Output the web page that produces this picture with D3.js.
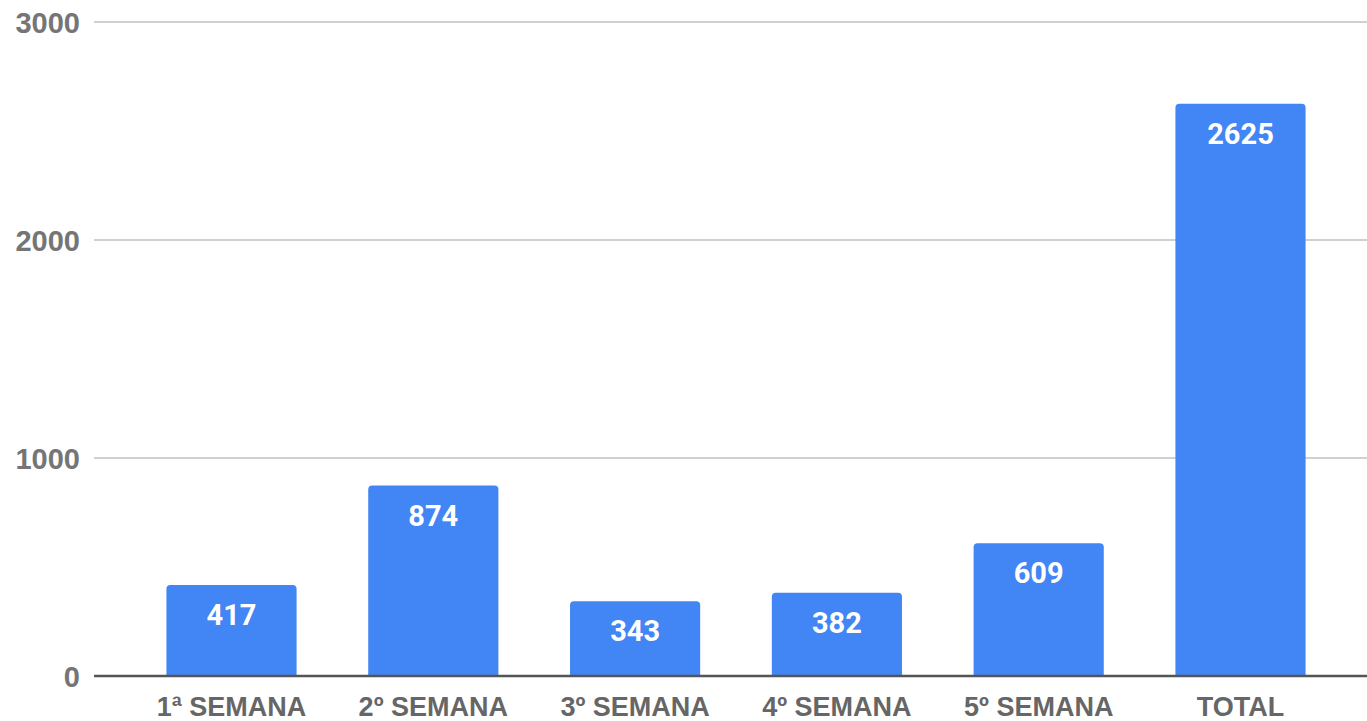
<!DOCTYPE html>
<html>
<head>
<meta charset="utf-8">
<script src="https://cdn.jsdelivr.net/npm/d3@7"></script>
<style>
  html, body { margin: 0; padding: 0; background: #fff; }
  svg { display: block; font-family: Roboto, "Noto Sans", sans-serif; }
</style>
</head>
<body>
<svg id="chart" width="1367" height="721"></svg>
<script>
// Weekly counts plus the overall total
const categories = ["1ª SEMANA", "2º SEMANA", "3º SEMANA", "4º SEMANA", "5º SEMANA", "TOTAL"];
const values = [417, 874, 343, 382, 609, 2625];
const yTicks = [0, 1000, 2000, 3000];

const svg = d3.select("#chart");
const plot = { left: 94, right: 1367, top: 22, bottom: 676 };

const x = d3.scaleBand()
  .domain(categories)
  .range([130.6, 1341.4])
  .paddingInner(0.355)
  .paddingOuter(0.1775);

const y = d3.scaleLinear()
  .domain([0, 3000])
  .range([plot.bottom, plot.top]);

// Horizontal gridlines
svg.append("g")
  .selectAll("line")
  .data(yTicks.filter(d => d > 0))
  .join("line")
  .attr("x1", plot.left)
  .attr("x2", plot.right)
  .attr("y1", d => y(d))
  .attr("y2", d => y(d))
  .attr("stroke", "#d0d0d0")
  .attr("stroke-width", 2);

// Y axis labels
const yAxis = d3.axisLeft(y).tickValues(yTicks).tickSize(0).tickPadding(0).tickFormat(d3.format("d"));
const yg = svg.append("g").attr("transform", `translate(80,0)`).call(yAxis);
yg.select(".domain").remove();
yg.selectAll("text")
  .attr("fill", "#757575")
  .attr("font-size", 29)
  .attr("font-weight", 700)
  .attr("dy", "0.35em");

// Bars with rounded top corners
const r = 4;
function barPath(d) {
  const x0 = x(d.cat), x1 = x0 + x.bandwidth();
  const yt = y(d.val), yb = y(0);
  return `M${x0},${yb}V${yt + r}Q${x0},${yt} ${x0 + r},${yt}H${x1 - r}Q${x1},${yt} ${x1},${yt + r}V${yb}Z`;
}
const data = categories.map((c, i) => ({ cat: c, val: values[i] }));

svg.append("g")
  .selectAll("path")
  .data(data)
  .join("path")
  .attr("d", barPath)
  .attr("fill", "#4285F4");

// Value labels inside bars
svg.append("g")
  .selectAll("text")
  .data(data)
  .join("text")
  .attr("x", d => x(d.cat) + x.bandwidth() / 2)
  .attr("y", d => y(d.val) + 30)
  .attr("dy", "0.35em")
  .attr("text-anchor", "middle")
  .attr("fill", "#fff")
  .attr("font-size", 29)
  .attr("font-weight", 700)
  .text(d => d.val);

// Baseline
svg.append("line")
  .attr("x1", plot.left)
  .attr("x2", plot.right)
  .attr("y1", y(0))
  .attr("y2", y(0))
  .attr("stroke", "#555")
  .attr("stroke-width", 2.5);

// X axis labels
const xAxis = d3.axisBottom(x).tickSize(0).tickPadding(0);
const xg = svg.append("g").attr("transform", `translate(0,${y(0)})`).call(xAxis);
xg.select(".domain").remove();
xg.selectAll("text")
  .attr("y", 31)
  .attr("dy", "0.35em")
  .attr("fill", "#666")
  .attr("font-size", 27)
  .attr("font-weight", 700);
</script>
</body>
</html>
